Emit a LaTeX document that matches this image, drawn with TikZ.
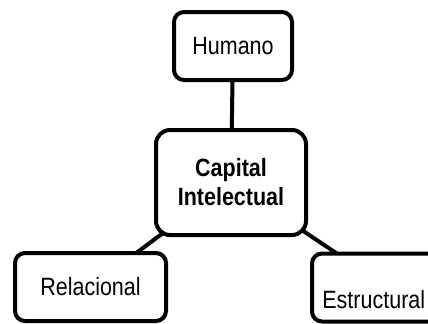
\documentclass[tikz,border=0pt]{standalone}
\usepackage{fontspec}
\setmainfont[FakeStretch=0.86]{Liberation Sans}
\usetikzlibrary{backgrounds}

\begin{document}
\begin{tikzpicture}[x=0.5pt, y=-0.5pt,
    box/.style={draw, line width=2pt, rounded corners=5pt, fill=white,
      inner sep=0pt, font=\fontsize{12.5}{14}\selectfont},
    link/.style={line width=2pt}]
  \clip (0,0) rectangle (428,323);

  % Centre box
  \node[box, rounded corners=7pt, minimum width=75pt, minimum height=52.5pt,
    align=center, font=\fontsize{12.5}{14.5}\selectfont\bfseries]
    (capital) at (231,182.5) {Capital\\Intelectual};

  % Three parts
  \node[box, minimum width=59pt, minimum height=34pt] (humano) at (233,46) {Humano};
  \node[box, minimum width=75.5pt, minimum height=34pt] (relacional) at (90.5,287) {Relacional};
  \node[box, minimum width=75.5pt, minimum height=34pt] (estructural) at (387.5,287.5) {};
  \node[anchor=base west, inner sep=0pt, font=\fontsize{12.5}{14}\selectfont]
    (estrlabel) at (322,308) {Estructural};

  % Connectors behind the boxes
  \begin{scope}[on background layer]
    \draw[link] (capital.center) -- (humano.center);
    \draw[link] (capital.center) -- (relacional.center);
    \draw[link] (capital.center) -- (estructural.center);
  \end{scope}
\end{tikzpicture}
\end{document}
